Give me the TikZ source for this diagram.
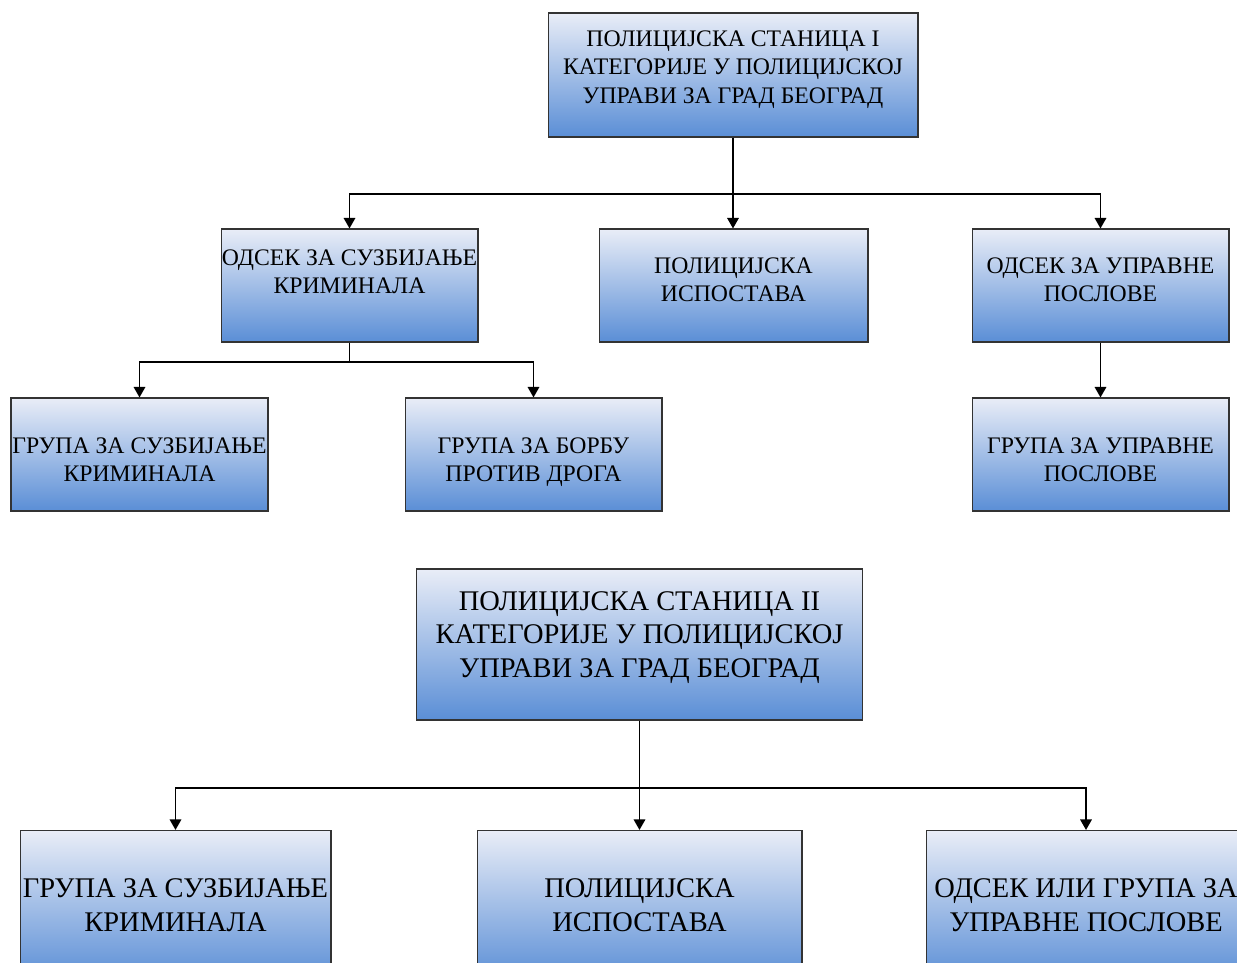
\documentclass[tikz,border=0pt]{standalone}
\usepackage{fontspec}
\setmainfont{Liberation Serif}
\usetikzlibrary{arrows.meta}
\definecolor{boxtop}{HTML}{E9EDF7}
\definecolor{boxbot}{HTML}{5A8ED6}
\tikzset{
  unit/.style={draw=black!80,line width=.6pt,top color=boxtop,bottom color=boxbot,
    align=center,inner sep=0pt},
  small/.style={unit,minimum width=5.14cm,minimum height=2.26cm,
    font=\fontsize{13.5}{16}\selectfont},
  large/.style={unit,minimum height=3.02cm,font=\fontsize{16.2}{19}\selectfont},
  link/.style={line width=1.1pt},
  arrow/.style={link,-{Triangle[width=6.5pt,length=6pt]}}
}
\begin{document}
\begin{tikzpicture}[x=0.02cm,y=-0.02cm]
\clip (0,0) rectangle (1237,963);
% first station
\node[small,minimum width=7.4cm,minimum height=2.48cm,text depth=9pt] (a1) at (733,75)
  {ПОЛИЦИЈСКА СТАНИЦА I\\КАТЕГОРИЈЕ У ПОЛИЦИЈСКОЈ\\УПРАВИ ЗА ГРАД БЕОГРАД};
\node[small,text depth=15.5pt] (b1) at (349.5,285.5) {ОДСЕК ЗА СУЗБИЈАЊЕ\\КРИМИНАЛА};
\node[small,minimum width=5.38cm,text depth=6.3pt] (b2) at (733.5,285.5) {ПОЛИЦИЈСКА\\ИСПОСТАВА};
\node[small,text depth=6.3pt] (b3) at (1100.5,285.5) {ОДСЕК ЗА УПРАВНЕ\\ПОСЛОВЕ};
\node[small,text depth=0pt,text height=31pt] (r1) at (139.5,454.5) {ГРУПА ЗА СУЗБИЈАЊЕ\\КРИМИНАЛА};
\node[small,text depth=0pt,text height=31pt] (r2) at (533.5,454.5) {ГРУПА ЗА БОРБУ\\ПРОТИВ ДРОГА};
\node[small,text depth=0pt,text height=31pt] (r3) at (1100.5,454.5) {ГРУПА ЗА УПРАВНЕ\\ПОСЛОВЕ};
\coordinate (j1) at (733,194);
\coordinate (j2) at (349.5,362);
\draw[link] (a1.south) -- (j1);
\draw[arrow] (j1) -| (b1.north);
\draw[arrow] (a1.south) -- (a1.south |- b2.north);
\draw[arrow] (j1) -| (b3.north);
\draw[link] (b1.south) -- (j2);
\draw[arrow] (j2) -| (r1.north);
\draw[arrow] (j2) -| (r2.north);
\draw[arrow] (b3.south) -- (r3.north);
% second station
\node[large,minimum width=8.94cm,text depth=11.5pt] (a2) at (639.5,644.5)
  {ПОЛИЦИЈСКА СТАНИЦА II\\КАТЕГОРИЈЕ У ПОЛИЦИЈСКОЈ\\УПРАВИ ЗА ГРАД БЕОГРАД};
\node[large,minimum width=6.22cm,text depth=1pt] (d1) at (175.5,906) {ГРУПА ЗА СУЗБИЈАЊЕ\\КРИМИНАЛА};
\node[large,minimum width=6.5cm,text depth=1pt] (d2) at (639.5,906) {ПОЛИЦИЈСКА\\ИСПОСТАВА};
\node[large,minimum width=6.4cm,text depth=1pt] (d3) at (1086,906) {ОДСЕК ИЛИ ГРУПА ЗА\\УПРАВНЕ ПОСЛОВЕ};
\coordinate (j3) at (640,788);
\draw[arrow] (a2.south) -- (a2.south |- d2.north);
\draw[arrow] (j3) -| (d1.north);
\draw[arrow] (j3) -| (d3.north);
\end{tikzpicture}
\end{document}
